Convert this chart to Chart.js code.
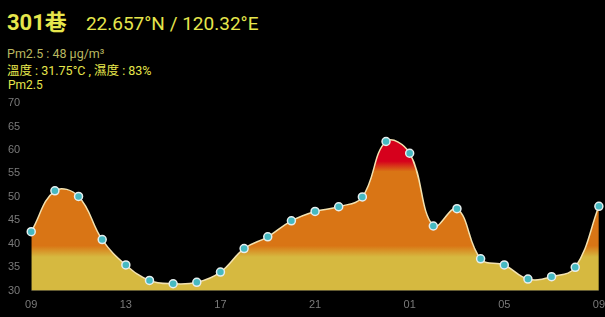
<!DOCTYPE html>
<html>
<head>
<meta charset="utf-8">
<script src="https://cdn.jsdelivr.net/npm/chart.js@4"></script>
<style>
  body { margin: 0; background: #000; width: 605px; height: 317px; overflow: hidden; font-family: Roboto, "Noto Sans CJK TC", sans-serif; color: #e6e64c; }
  .t { position: absolute; white-space: nowrap; line-height: 1; }
  #title { left: 7px; top: 12px; font-size: 22px; font-weight: bold; }
  #title span { font-size: 19px; font-weight: normal; margin-left: 19px; }
  #pm { left: 7px; top: 48px; font-size: 12.5px; color: #b9b860; }
  #th { left: 7px; top: 65px; font-size: 12.5px; }
  #lbl { left: 8px; top: 79px; font-size: 12px; }
  #wrap { position: absolute; left: 0; top: 89px; width: 605px; height: 228px; }
</style>
</head>
<body>
<div id="title" class="t">301巷<span>22.657°N / 120.32°E</span></div>
<div id="pm" class="t">Pm2.5 : 48 µg/m³</div>
<div id="th" class="t">溫度 : 31.75°C , 濕度 : 83%</div>
<div id="lbl" class="t">Pm2.5</div>
<div id="wrap"><canvas id="pmChart"></canvas></div>
<script>
const hours = ["09","10","11","12","13","14","15","16","17","18","19","20","21","22","23","00","01","02","03","04","05","06","07","08","09"];
const pm25 = [42.6, 51.3, 50.1, 40.9, 35.5, 32.2, 31.5, 31.8, 34.0, 39.0, 41.5, 44.9, 46.9, 47.9, 50.0, 61.8, 59.3, 43.8, 47.5, 36.8, 35.5, 32.5, 33.0, 35.0, 48.0];
const yMin = 30, yMax = 70, yStep = 5;

function areaFill(context) {
  const chart = context.chart;
  const area = chart.chartArea;
  if (!area) return "#d97515";
  const y = chart.scales.y;
  const g = chart.ctx.createLinearGradient(0, y.getPixelForValue(yMin), 0, y.getPixelForValue(yMax));
  const at = v => (v - yMin) / (yMax - yMin);
  g.addColorStop(0, "#d6b940");
  g.addColorStop(at(37.2), "#d6b940");
  g.addColorStop(at(39.6), "#d97515");
  g.addColorStop(at(55.4), "#d97515");
  g.addColorStop(at(57.6), "#d6001c");
  g.addColorStop(1, "#d6001c");
  return g;
}

new Chart(document.getElementById("pmChart").getContext("2d"), {
  type: "line",
  data: {
    labels: hours,
    datasets: [{
      label: "Pm2.5",
      data: pm25,
      borderColor: "#f3e2b0",
      borderWidth: 1.5,
      backgroundColor: areaFill,
      fill: "start",
      tension: 0.4,
      pointRadius: 4,
      pointBackgroundColor: "#46b9c1",
      pointBorderColor: "#e6eeee",
      pointBorderWidth: 1.5
    }]
  },
  options: {
    responsive: true,
    maintainAspectRatio: false,
    animation: false,
    layout: { padding: { left: 5, right: 0, top: 14, bottom: 5 } },
    plugins: { legend: { display: false }, tooltip: { enabled: false } },
    scales: {
      x: {
        grid: { display: false },
        border: { color: "#0e1626" },
        ticks: {
          color: "#7a7a7a",
          font: { size: 11, family: "Arial, 'Liberation Sans'" },
          autoSkip: false,
          maxRotation: 0,
          padding: 0,
          callback: (v, i) => (i % 4 === 0 ? hours[i] : null)
        }
      },
      y: {
        min: yMin,
        max: yMax,
        grid: { display: false },
        border: { display: false },
        ticks: {
          stepSize: yStep,
          color: "#7a7a7a",
          font: { size: 11, family: "Arial, 'Liberation Sans'" },
          padding: 3
        }
      }
    }
  }
});
</script>
</body>
</html>
